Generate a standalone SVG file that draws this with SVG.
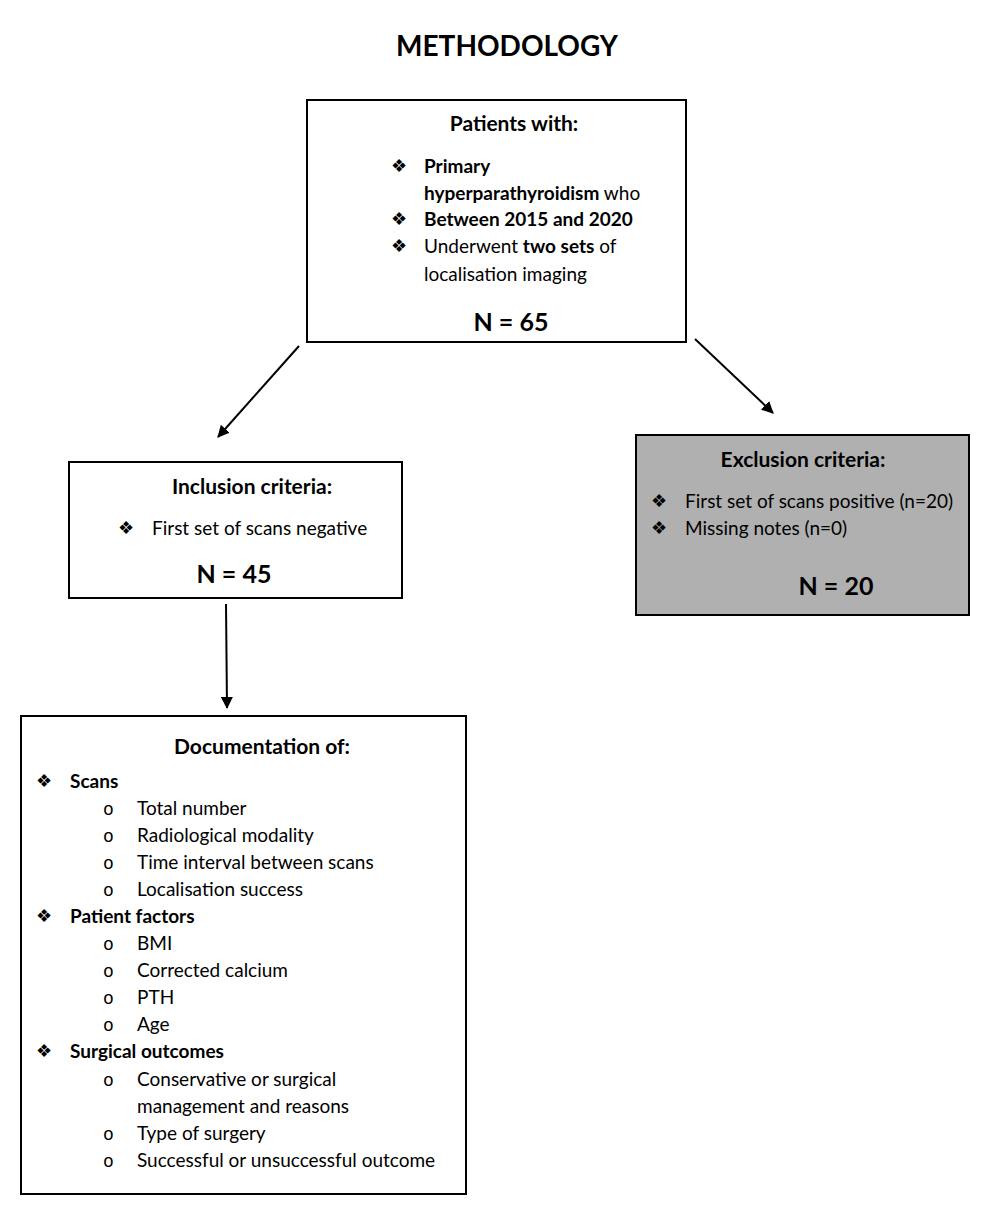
<svg xmlns="http://www.w3.org/2000/svg" width="986" height="1220" viewBox="0 0 986 1220">
<defs>
<marker id="ah" markerWidth="12" markerHeight="12" refX="11" refY="6" orient="auto" markerUnits="userSpaceOnUse"><path d="M0,0 L12,6 L0,12 z" fill="#000"/></marker>
<style>
.box{fill:#fff;stroke:#000;stroke-width:2}
.gray{fill:#b0b0b0;stroke:#000;stroke-width:2}
text{font-family:Lato,"Open Sans","Liberation Sans",sans-serif;font-size:19px;fill:#000}
.b{font-weight:bold}
.h{font-weight:bold;font-size:21px}
.n{font-weight:bold;font-size:25px}
.m{text-anchor:middle}
.bul{font-family:"DejaVu Sans",sans-serif;font-size:18px}
.o{font-family:"Liberation Mono",monospace;font-size:18px}
.conn{stroke:#000;stroke-width:2;fill:none;marker-end:url(#ah)}
</style>
</defs>
<rect width="986" height="1220" fill="#fff"/>
<text x="507" y="56" class="m" style="font-weight:bold;font-size:28px">METHODOLOGY</text>
<g id="patients">
<rect class="box" x="307" y="100" width="379" height="242"/>
<text x="514" y="131" class="h m">Patients with:</text>
<text x="391" y="172" class="bul">❖</text>
<text x="424" y="173" class="b">Primary</text>
<text x="424" y="200"><tspan class="b">hyperparathyroidism</tspan> who</text>
<text x="391" y="225" class="bul">❖</text>
<text x="424" y="226" class="b">Between 2015 and 2020</text>
<text x="391" y="252" class="bul">❖</text>
<text x="424" y="253">Underwent <tspan class="b">two sets</tspan> of</text>
<text x="424" y="281">localisation imaging</text>
<text x="511" y="331" class="n m">N = 65</text>
</g>
<g id="inclusion">
<rect class="box" x="69" y="462" width="333" height="136"/>
<text x="252" y="494" class="h m">Inclusion criteria:</text>
<text x="118" y="534" class="bul">❖</text>
<text x="152" y="535">First set of scans negative</text>
<text x="234" y="583" class="n m">N = 45</text>
</g>
<g id="exclusion">
<rect class="gray" x="636" y="435" width="333" height="180"/>
<text x="803" y="467" class="h m">Exclusion criteria:</text>
<text x="651" y="507" class="bul">❖</text>
<text x="685" y="508">First set of scans positive (n=20)</text>
<text x="651" y="534" class="bul">❖</text>
<text x="685" y="535">Missing notes (n=0)</text>
<text x="836" y="595" class="n m">N = 20</text>
</g>
<g id="documentation">
<rect class="box" x="21" y="716" width="445" height="478"/>
<text x="262" y="754" class="h m">Documentation of:</text>
<text x="36" y="787" class="bul">❖</text>
<text x="70" y="788" class="b">Scans</text>
<text x="103" y="815" class="o">o</text><text x="137" y="815">Total number</text>
<text x="103" y="842" class="o">o</text><text x="137" y="842">Radiological modality</text>
<text x="103" y="869" class="o">o</text><text x="137" y="869">Time interval between scans</text>
<text x="103" y="896" class="o">o</text><text x="137" y="896">Localisation success</text>
<text x="36" y="922" class="bul">❖</text>
<text x="70" y="923" class="b">Patient factors</text>
<text x="103" y="950" class="o">o</text><text x="137" y="950">BMI</text>
<text x="103" y="977" class="o">o</text><text x="137" y="977">Corrected calcium</text>
<text x="103" y="1004" class="o">o</text><text x="137" y="1004">PTH</text>
<text x="103" y="1031" class="o">o</text><text x="137" y="1031">Age</text>
<text x="36" y="1057" class="bul">❖</text>
<text x="70" y="1058" class="b">Surgical outcomes</text>
<text x="103" y="1086" class="o">o</text><text x="137" y="1086">Conservative or surgical</text>
<text x="137" y="1113">management and reasons</text>
<text x="103" y="1140" class="o">o</text><text x="137" y="1140">Type of surgery</text>
<text x="103" y="1167" class="o">o</text><text x="137" y="1167">Successful or unsuccessful outcome</text>
</g>
<g id="connectors">
<line class="conn" x1="299" y1="346" x2="218" y2="437"/>
<line class="conn" x1="695" y1="339" x2="773" y2="413"/>
<line class="conn" x1="226" y1="604" x2="227" y2="708"/>
</g>
</svg>
